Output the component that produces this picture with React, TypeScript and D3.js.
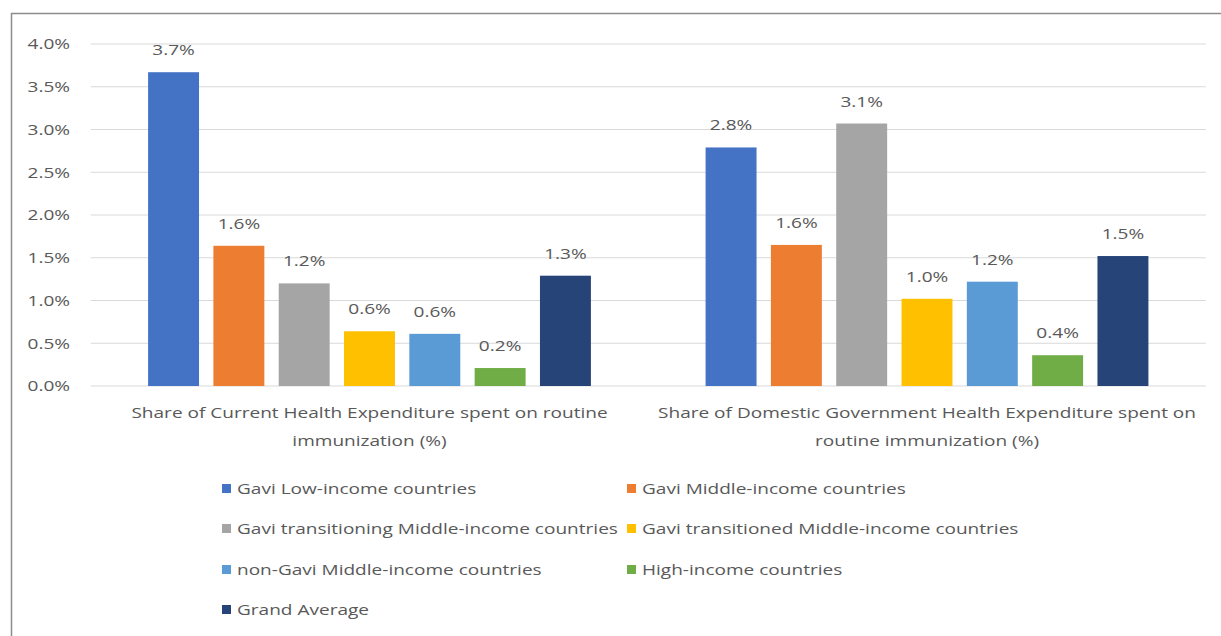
import React from "react";
import * as d3 from "d3";

const categories = [
  ["Share of Current Health Expenditure spent on routine", "immunization (%)"],
  ["Share of Domestic Government Health Expenditure spent on", "routine immunization (%)"],
];
const seriesNames = [
  "Gavi Low-income countries",
  "Gavi Middle-income countries",
  "Gavi transitioning Middle-income countries",
  "Gavi transitioned Middle-income countries",
  "non-Gavi Middle-income countries",
  "High-income countries",
  "Grand Average",
];
const seriesColors = ["#4472C4", "#ED7D31", "#A5A5A5", "#FFC000", "#5B9BD5", "#70AD47", "#264478"];
// values in percent: [current health exp, domestic gov health exp]
const valuesCHE = [3.67, 1.64, 1.2, 0.64, 0.61, 0.21, 1.29];
const valuesDGHE = [2.79, 1.65, 3.07, 1.02, 1.22, 0.36, 1.52];
const valueLabelsCHE = ["3.7%", "1.6%", "1.2%", "0.6%", "0.6%", "0.2%", "1.3%"];
const valueLabelsDGHE = ["2.8%", "1.6%", "3.1%", "1.0%", "1.2%", "0.4%", "1.5%"];
const yTicks = [0, 0.5, 1, 1.5, 2, 2.5, 3, 3.5, 4];

const FONT = "'Open Sans', sans-serif";
const TXT = "#595959";
const SX = 1.27;

function SText(props: { x: number; y: number; anchor?: string; dy?: string; children: React.ReactNode }) {
  return (
    <text
      transform={`translate(${props.x},${props.y}) scale(${SX},1)`}
      textAnchor={props.anchor || "start"}
      dy={props.dy}
      fontSize={15}
      fill={TXT}
    >
      {props.children}
    </text>
  );
}

export default function App() {
  const W = 1221, H = 636;
  const x0 = d3.scaleBand<number>().domain([0, 1]).range([90.75, 1205.75]).paddingInner(0).paddingOuter(0);
  const x1 = d3
    .scaleBand<number>()
    .domain(d3.range(seriesNames.length))
    .range([0, x0.bandwidth()])
    .paddingInner(0.22)
    .paddingOuter(0.878);
  const y = d3.scaleLinear().domain([0, 4]).range([386, 44]);
  const groups = [
    { vals: valuesCHE, labels: valueLabelsCHE },
    { vals: valuesDGHE, labels: valueLabelsDGHE },
  ];
  const legendCols = [222, 627];
  const legendRows = [489, 529, 570, 610];

  return (
    <svg
      width={W}
      height={H}
      style={{ position: "absolute", left: 0, top: 0, background: "#fff" }}
      fontFamily={FONT}
    >
      <rect x={0} y={0} width={W} height={H} fill="#fff" />
      <rect x={11.5} y={13.5} width={W + 10} height={H + 10} fill="none" stroke="#8c8c8c" strokeWidth={1.5} />
      {yTicks.map((t) => (
        <g key={t}>
          <line x1={90.75} x2={1205.75} y1={y(t)} y2={y(t)} stroke="#d9d9d9" strokeWidth={1} />
          <SText x={70} y={y(t)} dy="0.35em" anchor="end">
            {t.toFixed(1) + "%"}
          </SText>
        </g>
      ))}
      {groups.map((g, gi) => (
        <g key={gi} transform={`translate(${x0(gi)},0)`}>
          {g.vals.map((v, si) => (
            <g key={si}>
              <rect
                x={x1(si)}
                y={y(v)}
                width={x1.bandwidth()}
                height={y(0) - y(v)}
                fill={seriesColors[si]}
              />
              <SText x={(x1(si) as number) + x1.bandwidth() / 2} y={y(v) - 17} anchor="middle">
                {g.labels[si]}
              </SText>
            </g>
          ))}
          {categories[gi].map((line, li) => (
            <SText key={li} x={x0.bandwidth() / 2} y={418 + li * 28} anchor="middle">
              {line}
            </SText>
          ))}
        </g>
      ))}
      {seriesNames.map((name, i) => {
        const cx = legendCols[i % 2];
        const cy = legendRows[Math.floor(i / 2)];
        return (
          <g key={name}>
            <rect x={cx} y={cy - 5} width={9} height={9} fill={seriesColors[i]} />
            <SText x={cx + 15} y={cy} dy="0.35em">
              {name}
            </SText>
          </g>
        );
      })}
    </svg>
  );
}
